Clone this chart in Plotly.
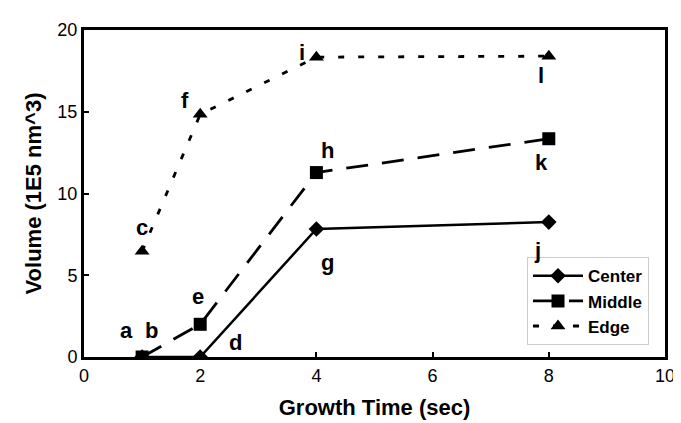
import plotly.graph_objects as go

time_x = [1, 2, 4, 8]
center = [0, 0, 7.83, 8.25]
middle = [0, 2.0, 11.28, 13.35]
edge = [6.47, 14.84, 18.34, 18.4]

label_text = ["a", "b", "c", "d", "e", "f", "g", "h", "i", "j", "k", "l"]
label_x = [0.74, 1.17, 1.0, 2.6, 1.97, 1.74, 4.19, 4.19, 3.76, 7.81, 7.88, 7.86]
label_y = [1.6, 1.6, 7.95, 0.9, 3.7, 15.7, 5.75, 12.6, 18.6, 6.5, 11.9, 17.2]

FONT = "Liberation Sans, Arial, sans-serif"

fig = go.Figure()
fig.add_trace(go.Scatter(x=time_x, y=center, name="<b>Center</b>", mode="lines+markers",
                         line=dict(color="black", width=2.5),
                         marker=dict(symbol="diamond", size=12, color="black")))
fig.add_trace(go.Scatter(x=time_x, y=middle, name="<b>Middle</b>", mode="lines+markers",
                         line=dict(color="black", width=2.8, dash="22px,14px"),
                         marker=dict(symbol="square", size=13, color="black")))
fig.add_trace(go.Scatter(x=time_x, y=edge, name="<b>Edge</b>", mode="lines+markers",
                         line=dict(color="black", width=2.8, dash="6px,14px"),
                         marker=dict(symbol="triangle-up", size=13, color="black")))

for t, x, y in zip(label_text, label_x, label_y):
    fig.add_annotation(x=x, y=y, text="<b>%s</b>" % t, showarrow=False,
                       font=dict(family=FONT, size=22, color="black"))

fig.update_layout(
    width=681, height=423,
    margin=dict(l=76, r=24, t=12, b=74),
    plot_bgcolor="white", paper_bgcolor="white",
    font=dict(family=FONT, color="black", size=18),
    showlegend=True,
    legend=dict(x=0.7625, y=0.305, xanchor="left", yanchor="top",
                bordercolor="#cccccc", borderwidth=1, bgcolor="white",
                font=dict(family=FONT, size=17, color="black"),
                tracegroupgap=0, itemwidth=50),
    xaxis=dict(range=[0, 10], tickvals=[0, 2, 4, 6, 8, 10], ticks="inside",
               ticklen=5, tickwidth=1.5, tickcolor="black",
               showline=True, linecolor="black", linewidth=3, mirror=True,
               showgrid=False, zeroline=False,
               tickfont=dict(size=18),
               title=dict(text="<b>Growth Time (sec)</b>", font=dict(size=22), standoff=16)),
    yaxis=dict(range=[0, 20], tickvals=[0, 5, 10, 15, 20], ticks="inside",
               ticklen=5, tickwidth=1.5, tickcolor="black",
               showline=True, linecolor="black", linewidth=3, mirror=True,
               showgrid=False, zeroline=False,
               tickfont=dict(size=18),
               title=dict(text="<b>Volume (1E5 nm^3)</b>", font=dict(size=22), standoff=10)),
)

fig.write_html("out.html")
